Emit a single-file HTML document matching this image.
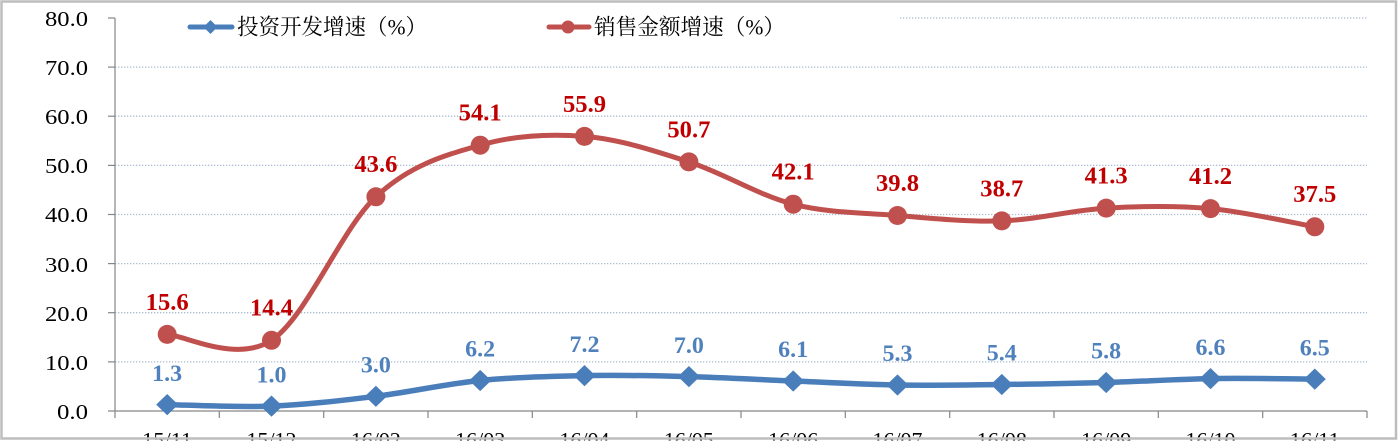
<!DOCTYPE html>
<html><head><meta charset="utf-8"><style>
html,body{margin:0;padding:0;background:#fff;}
svg{display:block;}
</style></head><body>
<svg width="1398" height="442" viewBox="0 0 1398 442" xmlns="http://www.w3.org/2000/svg">
<rect x="0" y="0" width="1398" height="442" fill="#fff"/>
<!-- gridlines -->
<g stroke="#a9bcd0" stroke-width="1.3" stroke-dasharray="1.3 1.7" fill="none">
<line x1="900" y1="18" x2="1367" y2="18"/>
<line x1="115" y1="67.1" x2="1367" y2="67.1"/>
<line x1="115" y1="116.2" x2="1367" y2="116.2"/>
<line x1="115" y1="165.4" x2="1367" y2="165.4"/>
<line x1="115" y1="214.5" x2="1367" y2="214.5"/>
<line x1="115" y1="263.6" x2="1367" y2="263.6"/>
<line x1="115" y1="312.7" x2="1367" y2="312.7"/>
<line x1="115" y1="361.9" x2="1367" y2="361.9"/>
</g>
<!-- axes -->
<g stroke="#868686" stroke-width="1.2" fill="none">
<line x1="115" y1="18" x2="115" y2="418"/>
<line x1="115" y1="411" x2="1367" y2="411"/>
<line x1="108" y1="18" x2="115" y2="18"/>
<line x1="108" y1="67.1" x2="115" y2="67.1"/>
<line x1="108" y1="116.2" x2="115" y2="116.2"/>
<line x1="108" y1="165.4" x2="115" y2="165.4"/>
<line x1="108" y1="214.5" x2="115" y2="214.5"/>
<line x1="108" y1="263.6" x2="115" y2="263.6"/>
<line x1="108" y1="312.7" x2="115" y2="312.7"/>
<line x1="108" y1="361.9" x2="115" y2="361.9"/>
<line x1="108" y1="411" x2="115" y2="411"/>
<line x1="219.3" y1="411" x2="219.3" y2="418"/>
<line x1="323.7" y1="411" x2="323.7" y2="418"/>
<line x1="428" y1="411" x2="428" y2="418"/>
<line x1="532.3" y1="411" x2="532.3" y2="418"/>
<line x1="636.7" y1="411" x2="636.7" y2="418"/>
<line x1="741" y1="411" x2="741" y2="418"/>
<line x1="845.3" y1="411" x2="845.3" y2="418"/>
<line x1="949.7" y1="411" x2="949.7" y2="418"/>
<line x1="1054" y1="411" x2="1054" y2="418"/>
<line x1="1158.3" y1="411" x2="1158.3" y2="418"/>
<line x1="1262.7" y1="411" x2="1262.7" y2="418"/>
<line x1="1367" y1="411" x2="1367" y2="418"/>
</g>
<!-- y labels -->
<g font-family="Liberation Serif, serif" font-size="21.5" fill="#000">
<text x="45" y="26" textLength="43" lengthAdjust="spacingAndGlyphs">80.0</text>
<text x="45" y="75" textLength="43" lengthAdjust="spacingAndGlyphs">70.0</text>
<text x="45" y="124" textLength="43" lengthAdjust="spacingAndGlyphs">60.0</text>
<text x="45" y="173" textLength="43" lengthAdjust="spacingAndGlyphs">50.0</text>
<text x="45" y="222" textLength="43" lengthAdjust="spacingAndGlyphs">40.0</text>
<text x="45" y="272" textLength="43" lengthAdjust="spacingAndGlyphs">30.0</text>
<text x="45" y="321" textLength="43" lengthAdjust="spacingAndGlyphs">20.0</text>
<text x="45" y="370" textLength="43" lengthAdjust="spacingAndGlyphs">10.0</text>
<text x="57" y="419" textLength="31" lengthAdjust="spacingAndGlyphs">0.0</text>
</g>
<!-- x labels -->
<g font-family="Liberation Serif, serif" font-size="21.5" fill="#000">
<text x="142.2" y="447" textLength="50" lengthAdjust="spacingAndGlyphs">15/11</text>
<text x="246.5" y="447" textLength="50" lengthAdjust="spacingAndGlyphs">15/12</text>
<text x="350.9" y="447" textLength="50" lengthAdjust="spacingAndGlyphs">16/02</text>
<text x="455.2" y="447" textLength="50" lengthAdjust="spacingAndGlyphs">16/03</text>
<text x="559.5" y="447" textLength="50" lengthAdjust="spacingAndGlyphs">16/04</text>
<text x="663.9" y="447" textLength="50" lengthAdjust="spacingAndGlyphs">16/05</text>
<text x="768.2" y="447" textLength="50" lengthAdjust="spacingAndGlyphs">16/06</text>
<text x="872.5" y="447" textLength="50" lengthAdjust="spacingAndGlyphs">16/07</text>
<text x="976.8" y="447" textLength="50" lengthAdjust="spacingAndGlyphs">16/08</text>
<text x="1081.2" y="447" textLength="50" lengthAdjust="spacingAndGlyphs">16/09</text>
<text x="1185.5" y="447" textLength="50" lengthAdjust="spacingAndGlyphs">16/10</text>
<text x="1289.8" y="447" textLength="50" lengthAdjust="spacingAndGlyphs">16/11</text>
</g>
<!-- red series -->
<path fill="none" stroke="#c0504d" stroke-width="5" stroke-linecap="round" stroke-linejoin="round" d="M167.2,334.4 C184.6,335.4 236.7,363.2 271.5,340.3 C306.3,317.4 341.1,229.3 375.9,196.8 C410.7,164.3 445.4,155.3 480.2,145.2 C515.0,135.1 549.7,133.6 584.5,136.4 C619.3,139.2 654.1,150.6 688.9,161.9 C723.7,173.2 758.4,195.3 793.2,204.2 C828.0,213.1 862.7,212.7 897.5,215.5 C932.3,218.3 967.0,222.1 1001.8,220.9 C1036.6,219.7 1071.4,210.2 1106.2,208.1 C1141.0,206.1 1175.7,205.5 1210.5,208.6 C1245.3,211.7 1297.4,223.8 1314.8,226.8"/>
<g fill="#c0504d">
<circle cx="167.2" cy="334.4" r="9.5"/>
<circle cx="271.5" cy="340.3" r="9.5"/>
<circle cx="375.9" cy="196.8" r="9.5"/>
<circle cx="480.2" cy="145.2" r="9.5"/>
<circle cx="584.5" cy="136.4" r="9.5"/>
<circle cx="688.9" cy="161.9" r="9.5"/>
<circle cx="793.2" cy="204.2" r="9.5"/>
<circle cx="897.5" cy="215.5" r="9.5"/>
<circle cx="1001.8" cy="220.9" r="9.5"/>
<circle cx="1106.2" cy="208.1" r="9.5"/>
<circle cx="1210.5" cy="208.6" r="9.5"/>
<circle cx="1314.8" cy="226.8" r="9.5"/>
</g>
<!-- blue series -->
<path fill="none" stroke="#4a7ebb" stroke-width="5.5" stroke-linecap="round" stroke-linejoin="round" d="M167.2,404.6 C184.6,404.9 236.7,407.5 271.5,406.1 C306.3,404.7 341.1,400.6 375.9,396.3 C410.7,392.0 445.4,383.9 480.2,380.5 C515.0,377.1 549.7,376.2 584.5,375.6 C619.3,375.0 654.1,375.7 688.9,376.6 C723.7,377.5 758.4,379.6 793.2,381.0 C828.0,382.4 862.7,384.4 897.5,385.0 C932.3,385.6 967.0,384.9 1001.8,384.5 C1036.6,384.1 1071.4,383.5 1106.2,382.5 C1141.0,381.5 1175.7,379.2 1210.5,378.6 C1245.3,378.0 1297.4,379.0 1314.8,379.1"/>
<g fill="#4a7ebb">
<path d="M167.2,394 l11,10.6 l-11,10.6 l-11,-10.6z"/>
<path d="M271.5,395.5 l11,10.6 l-11,10.6 l-11,-10.6z"/>
<path d="M375.9,385.7 l11,10.6 l-11,10.6 l-11,-10.6z"/>
<path d="M480.2,369.9 l11,10.6 l-11,10.6 l-11,-10.6z"/>
<path d="M584.5,365 l11,10.6 l-11,10.6 l-11,-10.6z"/>
<path d="M688.9,366 l11,10.6 l-11,10.6 l-11,-10.6z"/>
<path d="M793.2,370.4 l11,10.6 l-11,10.6 l-11,-10.6z"/>
<path d="M897.5,374.4 l11,10.6 l-11,10.6 l-11,-10.6z"/>
<path d="M1001.8,373.9 l11,10.6 l-11,10.6 l-11,-10.6z"/>
<path d="M1106.2,371.9 l11,10.6 l-11,10.6 l-11,-10.6z"/>
<path d="M1210.5,368 l11,10.6 l-11,10.6 l-11,-10.6z"/>
<path d="M1314.8,368.5 l11,10.6 l-11,10.6 l-11,-10.6z"/>
</g>
<!-- red data labels -->
<g font-family="Liberation Serif, serif" font-size="24" font-weight="bold" fill="#c00000">
<text x="145.7" y="309.8" textLength="43" lengthAdjust="spacingAndGlyphs">15.6</text>
<text x="250" y="315.7" textLength="43" lengthAdjust="spacingAndGlyphs">14.4</text>
<text x="354.4" y="172.2" textLength="43" lengthAdjust="spacingAndGlyphs">43.6</text>
<text x="458.7" y="120.6" textLength="43" lengthAdjust="spacingAndGlyphs">54.1</text>
<text x="563" y="111.8" textLength="43" lengthAdjust="spacingAndGlyphs">55.9</text>
<text x="667.4" y="137.3" textLength="43" lengthAdjust="spacingAndGlyphs">50.7</text>
<text x="771.7" y="179.6" textLength="43" lengthAdjust="spacingAndGlyphs">42.1</text>
<text x="876" y="190.9" textLength="43" lengthAdjust="spacingAndGlyphs">39.8</text>
<text x="980.3" y="196.3" textLength="43" lengthAdjust="spacingAndGlyphs">38.7</text>
<text x="1084.7" y="183.5" textLength="43" lengthAdjust="spacingAndGlyphs">41.3</text>
<text x="1189" y="184" textLength="43" lengthAdjust="spacingAndGlyphs">41.2</text>
<text x="1293.3" y="202.2" textLength="43" lengthAdjust="spacingAndGlyphs">37.5</text>
</g>
<!-- blue data labels -->
<g font-family="Liberation Serif, serif" font-size="23.5" font-weight="bold" fill="#4f81bd">
<text x="152.2" y="380.8" textLength="30" lengthAdjust="spacingAndGlyphs">1.3</text>
<text x="256.5" y="382.3" textLength="30" lengthAdjust="spacingAndGlyphs">1.0</text>
<text x="360.9" y="372.5" textLength="30" lengthAdjust="spacingAndGlyphs">3.0</text>
<text x="465.2" y="356.7" textLength="30" lengthAdjust="spacingAndGlyphs">6.2</text>
<text x="569.5" y="351.8" textLength="30" lengthAdjust="spacingAndGlyphs">7.2</text>
<text x="673.9" y="352.8" textLength="30" lengthAdjust="spacingAndGlyphs">7.0</text>
<text x="778.2" y="357.2" textLength="30" lengthAdjust="spacingAndGlyphs">6.1</text>
<text x="882.5" y="361.2" textLength="30" lengthAdjust="spacingAndGlyphs">5.3</text>
<text x="986.8" y="360.7" textLength="30" lengthAdjust="spacingAndGlyphs">5.4</text>
<text x="1091.2" y="358.7" textLength="30" lengthAdjust="spacingAndGlyphs">5.8</text>
<text x="1195.5" y="354.8" textLength="30" lengthAdjust="spacingAndGlyphs">6.6</text>
<text x="1299.8" y="355.3" textLength="30" lengthAdjust="spacingAndGlyphs">6.5</text>
</g>
<!-- legend -->
<line x1="190" y1="27" x2="232" y2="27" stroke="#4a7ebb" stroke-width="5" stroke-linecap="round"/>
<path d="M210.5,20 l7,7 l-7,7 l-7,-7z" fill="#4a7ebb"/>
<text x="237" y="34.5" font-family="Liberation Serif, 'Noto Serif CJK SC', serif" font-size="22" fill="#000" textLength="190" lengthAdjust="spacingAndGlyphs">投资开发增速（%）</text>
<line x1="549" y1="27" x2="589" y2="27" stroke="#c0504d" stroke-width="5" stroke-linecap="round"/>
<circle cx="568" cy="27" r="6.5" fill="#c0504d"/>
<text x="594" y="34.5" font-family="Liberation Serif, 'Noto Serif CJK SC', serif" font-size="22" fill="#000" textLength="191" lengthAdjust="spacingAndGlyphs">销售金额增速（%）</text>
<!-- outer border -->
<rect x="1.5" y="1.5" width="1394.5" height="437" fill="none" stroke="#bdbdbd" stroke-width="2.5"/>
<rect x="0" y="440.5" width="1398" height="2" fill="#fff"/>
</svg>
</body></html>
